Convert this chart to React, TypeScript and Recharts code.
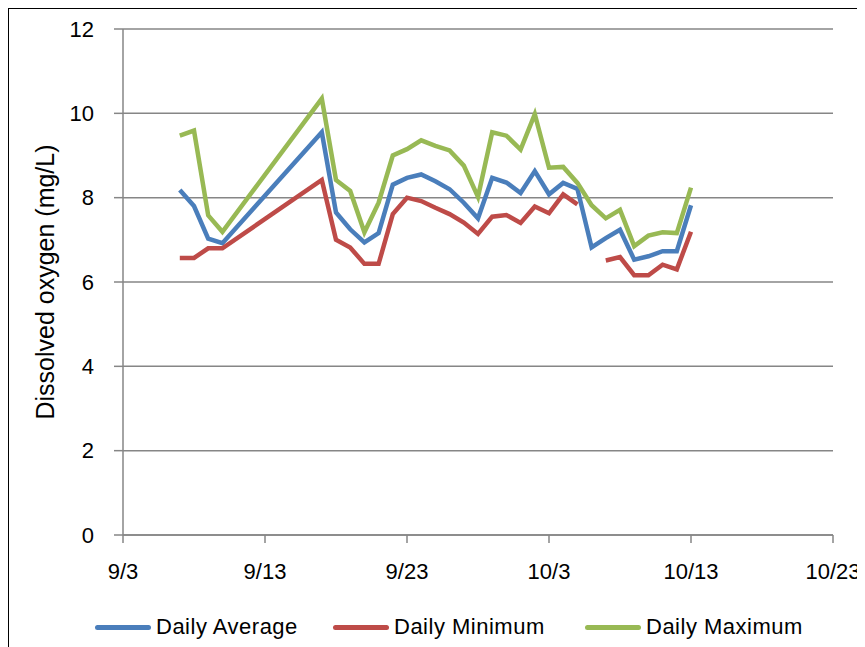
import React from "react";
import { LineChart, Line, XAxis, YAxis, CartesianGrid, Legend } from "recharts";

const dates = [
  "9/7", "9/8", "9/9", "9/10",
  "9/17", "9/18", "9/19", "9/20", "9/21", "9/22", "9/23", "9/24", "9/25", "9/26", "9/27", "9/28", "9/29", "9/30",
  "10/1", "10/2", "10/3", "10/4", "10/5", "10/6", "10/7", "10/8", "10/9", "10/10", "10/11", "10/12", "10/13",
];

const dailyAverage = [
  8.18, 7.8, 7.03, 6.92,
  9.55, 7.65, 7.25, 6.94, 7.16, 8.31, 8.47, 8.55, 8.39, 8.2, 7.88, 7.51, 8.47, 8.36,
  8.11, 8.63, 8.08, 8.35, 8.21, 6.82, 7.04, 7.24, 6.53, 6.61, 6.73, 6.73, 7.82,
];

const dailyMinimum: (number | null)[] = [
  6.57, 6.57, 6.8, 6.8,
  8.42, 7.0, 6.82, 6.43, 6.43, 7.61, 8.0, 7.92, 7.76, 7.61, 7.41, 7.14, 7.55, 7.59,
  7.4, 7.79, 7.63, 8.08, 7.84, null, 6.51, 6.59, 6.16, 6.16, 6.41, 6.3, 7.19,
];

const dailyMaximum = [
  9.47, 9.59, 7.58, 7.19,
  10.35, 8.42, 8.16, 7.18, 7.88, 9.0, 9.15, 9.36, 9.23, 9.12, 8.76, 8.02, 9.55, 9.47,
  9.14, 9.98, 8.71, 8.73, 8.35, 7.82, 7.51, 7.71, 6.85, 7.1, 7.18, 7.16, 8.24,
];

const xTickLabels = ["9/3", "9/13", "9/23", "10/3", "10/13", "10/23"];
const yTicks = [0, 2, 4, 6, 8, 10, 12];

const series = [
  { key: "avg", name: "Daily Average", color: "#4A7EBB" },
  { key: "min", name: "Daily Minimum", color: "#BE4B48" },
  { key: "max", name: "Daily Maximum", color: "#98B954" },
];

// day number counted from 9/0, so 10/1 -> 31
const dayNum = (s: string) => {
  const [m, d] = s.split("/").map(Number);
  return m === 9 ? d : 30 + d;
};

const dayLabel = (n: number) => (n > 30 ? `10/${n - 30}` : `9/${n}`);

const chartData = dates.map((d, i) => ({
  day: dayNum(d),
  avg: dailyAverage[i],
  min: dailyMinimum[i],
  max: dailyMaximum[i],
}));

const FONT = '"Liberation Sans", Arial, sans-serif';
const GRID = "#868686";
const legendWidths = [238, 252, 220];

function LegendBox() {
  return (
    <div
      style={{
        display: "flex",
        alignItems: "center",
        height: 30,
        paddingLeft: 86,
        fontFamily: FONT,
        fontSize: 22,
        letterSpacing: 0.5,
        color: "#000",
      }}
    >
      {series.map((s, i) => (
        <div key={s.key} style={{ display: "flex", alignItems: "center", width: legendWidths[i] }}>
          <div style={{ width: 56, height: 5, borderRadius: 3, background: s.color, marginRight: 5 }} />
          <span>{s.name}</span>
        </div>
      ))}
    </div>
  );
}

export default function App() {
  return (
    <div
      style={{
        marginLeft: -1,
        marginTop: -1,
        width: 856,
        height: 638,
        borderLeft: "2px solid #000",
        borderTop: "2px solid #000",
        background: "#fff",
        fontFamily: FONT,
      }}
    >
      <LineChart width={856} height={638} data={chartData} margin={{ top: 20, right: 32, left: 0, bottom: 5 }}>
        <CartesianGrid vertical={false} stroke={GRID} strokeWidth={1.5} />
        <XAxis
          dataKey="day"
          type="number"
          domain={[3, 53]}
          ticks={xTickLabels.map(dayNum)}
          tickFormatter={dayLabel}
          height={77}
          tickSize={8}
          tickMargin={20}
          stroke={GRID}
          strokeWidth={1.5}
          tick={{ fill: "#000", fontSize: 22 }}
        />
        <YAxis
          domain={[0, 12]}
          ticks={yTicks}
          width={114}
          tickSize={9}
          tickMargin={20}
          stroke={GRID}
          strokeWidth={1.5}
          tick={{ fill: "#000", fontSize: 22 }}
          label={{
            value: "Dissolved oxygen (mg/L)",
            angle: -90,
            position: "center",
            dx: -21,
            style: { fill: "#000", fontSize: 25 },
          }}
        />
        <Legend verticalAlign="bottom" content={() => <LegendBox />} />
        {series.map((s) => (
          <Line
            key={s.key}
            type="linear"
            dataKey={s.key}
            name={s.name}
            stroke={s.color}
            strokeWidth={4.5}
            dot={false}
            isAnimationActive={false}
          />
        ))}
      </LineChart>
    </div>
  );
}
